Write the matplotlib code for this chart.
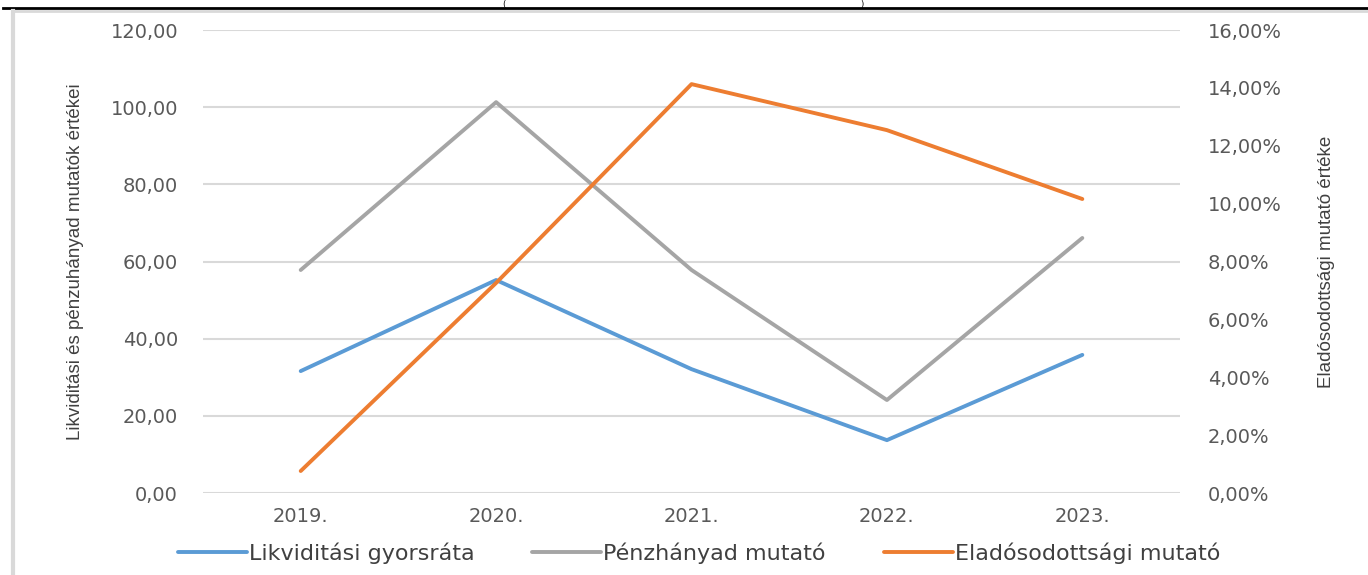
import numpy as np
import matplotlib.pyplot as plt
from matplotlib.ticker import FuncFormatter

years = ['2019.', '2020.', '2021.', '2022.', '2023.']
likviditasi = [31.6, 55.2, 32.1, 13.7, 35.8]
penzhanyad = [57.8, 101.3, 57.8, 24.1, 66.1]
eladosodottsagi = [0.76, 7.26, 14.13, 12.54, 10.16]  # percent

tick_col = '#595959'
grid_col = '#d9d9d9'
label_font = ['Liberation Sans', 'DejaVu Sans']

fig = plt.figure(figsize=(13.68, 5.75), dpi=100)
ax = fig.add_axes([0.1484, 0.1426, 0.7142, 0.8052])
ax2 = ax.twinx()

x = np.arange(len(years))
l1, = ax.plot(x, likviditasi, color='#5B9BD5', lw=2.8, solid_capstyle='round', label='Likviditási gyorsráta')
l2, = ax.plot(x, penzhanyad, color='#A5A5A5', lw=2.8, solid_capstyle='round', label='Pénzhányad mutató')
l3, = ax2.plot(x, eladosodottsagi, color='#ED7D31', lw=2.8, solid_capstyle='round', label='Eladósodottsági mutató')

ax.set_xlim(-0.5, 4.5)
ax.set_ylim(0, 120)
ax2.set_ylim(0, 16)
ax.set_yticks(np.arange(0, 121, 20))
ax2.set_yticks(np.arange(0, 17, 2))
ax.yaxis.set_major_formatter(FuncFormatter(lambda v, p: f'{v:.2f}'.replace('.', ',')))
ax2.yaxis.set_major_formatter(FuncFormatter(lambda v, p: f'{v:.2f}%'.replace('.', ',')))
ax.set_xticks(x)
ax.set_xticklabels(years)

ax.grid(axis='y', color=grid_col, lw=1.5)
ax.set_axisbelow(True)
for a in (ax, ax2):
    for s in a.spines.values():
        s.set_visible(False)
    a.tick_params(length=0, labelsize=14, colors=tick_col)
ax.tick_params(axis='y', pad=18)
ax2.tick_params(axis='y', pad=20)
ax.tick_params(axis='x', pad=10)

ax.set_ylabel('Likviditási és pénzuhányad mutatók értékei', family=label_font,
              fontsize=13.5, color='#404040', labelpad=19)
ax2.set_ylabel('Eladósodottsági mutató értéke', family=label_font,
               fontsize=13.5, color='#404040', labelpad=26)

leg = fig.legend(handles=[l1, l2, l3], loc='center', bbox_to_anchor=(0.511, 0.038),
                 ncol=3, frameon=False, handlelength=3.1,
                 handletextpad=0.1, columnspacing=2.6, prop={'size': 16})
for t in leg.get_texts():
    t.set_color('#404040')

# cropped frame from the source document
fig.add_artist(plt.Line2D([0.002, 1.0], [0.986, 0.986], color='black', lw=2))
fig.add_artist(plt.Line2D([0.01, 1.0], [0.981, 0.981], color='#d9d9d9', lw=2))
fig.add_artist(plt.Line2D([0.0095, 0.0095], [0.0, 0.981], color='#d9d9d9', lw=3))
fig.text(0.368, 0.9995, '(', fontsize=6, va='top', ha='center')
fig.text(0.630, 0.9995, ')', fontsize=6, va='top', ha='center')

fig.savefig('out.png', dpi=100)
